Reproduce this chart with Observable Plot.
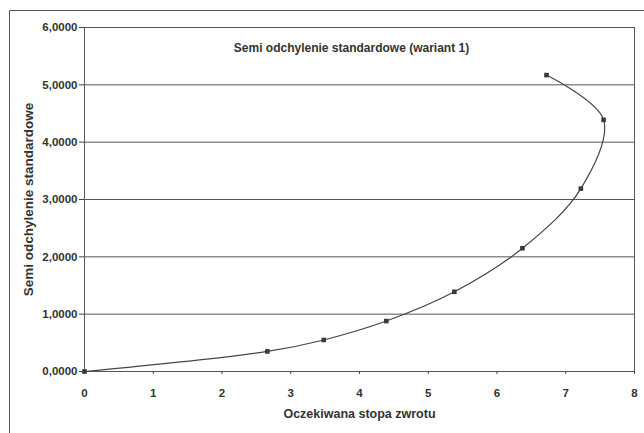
<!DOCTYPE html>
<html>
<head>
<meta charset="utf-8">
<script src="https://cdn.jsdelivr.net/npm/d3@7"></script>
<script src="https://cdn.jsdelivr.net/npm/@observablehq/plot@0.6"></script>
<style>
html, body { margin: 0; padding: 0; background: #fff; }
</style>
</head>
<body>
<div id="chart"></div>
<script>
const returns = [0, 2.66, 3.48, 4.39, 5.38, 6.37, 7.22, 7.55, 6.72];
const semiDev = [0, 0.35, 0.55, 0.88, 1.39, 2.15, 3.19, 4.39, 5.17];
const xTicks = [0, 1, 2, 3, 4, 5, 6, 7, 8];
const yTicks = [0, 1, 2, 3, 4, 5, 6];
const title = "Semi odchylenie standardowe (wariant 1)";
const xLabel = "Oczekiwana stopa zwrotu";
const yLabel = "Semi odchylenie standardowe";

const data = returns.map((x, i) => ({x, y: semiDev[i]}));
const fmtY = d => d.toFixed(4).replace(".", ",");
const font = "'Liberation Sans', Arial, sans-serif";

const chart = Plot.plot({
  width: 644,
  height: 433,
  marginLeft: 84,
  marginRight: 10,
  marginTop: 27,
  marginBottom: 62,
  style: {fontFamily: font, fontSize: "11.5px", fontWeight: "bold", color: "#333", background: "#fff"},
  x: {domain: [0, 8], ticks: xTicks, tickFormat: d => String(d), label: null},
  y: {domain: [0, 6], ticks: yTicks, tickFormat: fmtY, label: null},
  marks: [
    Plot.gridY(yTicks, {stroke: "#444", strokeOpacity: 0.9, strokeWidth: 1}),
    Plot.frame({stroke: "#555", strokeWidth: 1}),
    Plot.axisY(yTicks, {tickSize: 5, tickPadding: 2, tickFormat: fmtY, fill: "#333", stroke: "#444"}),
    Plot.axisX(xTicks, {tickSize: 3, tickPadding: 14, tickFormat: d => String(d), fill: "#333", stroke: "#444"}),
    Plot.line(data, {x: "x", y: "y", curve: "catmull-rom", stroke: "#444", strokeWidth: 1.2}),
    Plot.dot(data, {x: "x", y: "y", symbol: "square", r: 2.6, fill: "#3a3a3a", stroke: "none"}),
    Plot.text([title], {frameAnchor: "top", dy: 16, text: d => d, fontSize: 12, fontWeight: "bold", fill: "#333", dx: -8}),
    Plot.text([xLabel], {frameAnchor: "bottom", dy: 46, text: d => d, fontSize: 12.5, fontWeight: "bold", fill: "#333"}),
    Plot.text([yLabel], {frameAnchor: "left", dx: -56, rotate: -90, textAnchor: "middle", text: d => d, fontSize: 13.5, fontWeight: "bold", fill: "#333"})
  ]
});
// outer chart-area border (decoration, like the spreadsheet's chart box)
d3.select(chart).append("path")
  .attr("d", "M9.5,440V10.5H650")
  .attr("fill", "none")
  .attr("stroke", "#555")
  .attr("stroke-width", 1);
document.getElementById("chart").appendChild(chart);
</script>
</body>
</html>
